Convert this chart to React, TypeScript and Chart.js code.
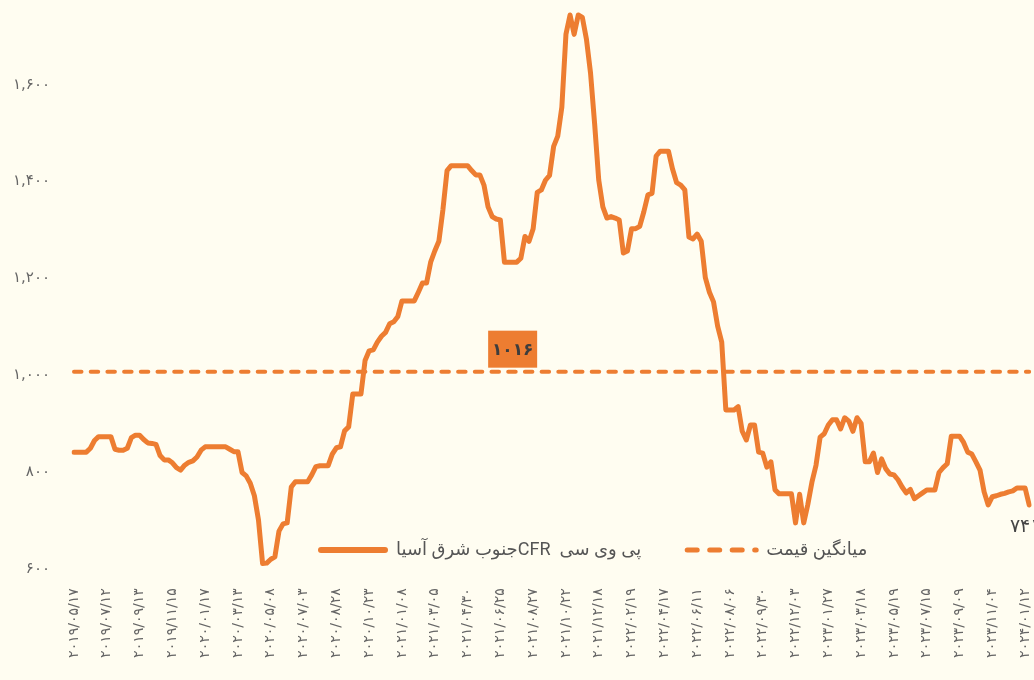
import React, { useEffect, useRef } from "react";
import { Chart, registerables } from "chart.js";

Chart.register(...registerables);

// ---- data ----
const tickLabels = [
  "۲۰۱۹/۰۵/۱۷", "۲۰۱۹/۰۷/۱۲", "۲۰۱۹/۰۹/۱۳", "۲۰۱۹/۱۱/۱۵", "۲۰۲۰/۰۱/۱۷",
  "۲۰۲۰/۰۳/۱۳", "۲۰۲۰/۰۵/۰۸", "۲۰۲۰/۰۷/۰۳", "۲۰۲۰/۰۸/۲۸", "۲۰۲۰/۱۰/۲۳",
  "۲۰۲۱/۰۱/۰۸", "۲۰۲۱/۰۳/۰۵", "۲۰۲۱/۰۴/۳۰", "۲۰۲۱/۰۶/۲۵", "۲۰۲۱/۰۸/۲۷",
  "۲۰۲۱/۱۰/۲۲", "۲۰۲۱/۱۲/۱۸", "۲۰۲۲/۰۲/۱۹", "۲۰۲۲/۰۴/۱۷", "۲۰۲۲/۰۶/۱۱",
  "۲۰۲۲/۰۸/۰۶", "۲۰۲۲/۰۹/۳۰", "۲۰۲۲/۱۲/۰۳", "۲۰۲۳/۰۱/۲۷", "۲۰۲۳/۰۳/۱۸",
  "۲۰۲۳/۰۵/۱۹", "۲۰۲۳/۰۷/۱۵", "۲۰۲۳/۰۹/۰۹", "۲۰۲۳/۱۱/۰۴", "۲۰۲۴/۰۱/۱۲",
];
const pointsPerTick = 8;

const prices = [
  850, 850, 850, 850, 858, 874, 882, 882,
  882, 882, 856, 854, 854, 858, 880, 885,
  885, 876, 869, 868, 866, 843, 834, 834,
  828, 818, 813, 823, 829, 832, 840, 854,
  861, 861, 861, 861, 861, 861, 856, 851,
  851, 808, 801, 786, 760, 710, 620, 621,
  629, 634, 687, 702, 704, 778, 789, 789,
  789, 789, 803, 820, 822, 822, 822, 846,
  859, 861, 894, 902, 970, 970, 970, 1039,
  1059, 1061, 1077, 1089, 1097, 1115, 1119, 1130,
  1162, 1162, 1162, 1162, 1180, 1199, 1199, 1242,
  1265, 1285, 1351, 1431, 1441, 1441, 1441, 1441,
  1441, 1431, 1422, 1422, 1401, 1356, 1336, 1331,
  1329, 1242, 1242, 1242, 1242, 1250, 1295, 1285,
  1311, 1386, 1391, 1411, 1421, 1481, 1502, 1562,
  1712, 1752, 1712, 1752, 1747, 1702, 1632, 1527,
  1411, 1356, 1333, 1336, 1333, 1329, 1261, 1265,
  1311, 1311, 1316, 1346, 1381, 1384, 1461, 1471,
  1471, 1471, 1434, 1406, 1401, 1391, 1294, 1290,
  1300, 1285, 1210, 1180, 1160, 1110, 1077, 937,
  937, 937, 944, 893, 875, 906, 906, 850,
  848, 819, 830, 772, 764, 764, 764, 764,
  704, 763, 704, 742, 788, 823, 881, 888,
  906, 917, 917, 898, 921, 914, 893, 921,
  909, 830, 830, 848, 808, 836, 816, 805,
  803, 793, 778, 766, 773, 754, 760, 766,
  772, 772, 772, 808, 818, 826, 883, 883,
  883, 870, 850, 846, 830, 813, 768, 741,
  758, 760, 763, 765, 768, 770, 776, 776,
  776, 741,
];

const avgPrice = 1016;
const seriesLabel = "پی وی سی  CFRجنوب شرق آسیا";
const avgLabel = "میانگین قیمت";

const yMin = 600;
const yMax = 1780;
const yTickValues = [600, 800, 1000, 1200, 1400, 1600];

// ---- styles ----
const ORANGE = "#ED7D31";
const BG = "#FFFDF1";
const TICK_COLOR = "#666666";
const TEXT_DARK = "#3d3d3d";
const FA_FONT = "'DejaVu Sans', sans-serif";
const LEGEND_FONT = "Roboto, 'DejaVu Sans', sans-serif";

const faDigits = "۰۱۲۳۴۵۶۷۸۹";
const toFa = (s: string) => s.replace(/\d/g, (d) => faDigits[Number(d)]);
const fmt = (n: number) => toFa(Math.round(n).toString().replace(/\B(?=(\d{3})+(?!\d))/g, ","));
const rtl = (s: string) => "\u200F\u202B" + s + "\u202C";

const categories = prices.map((_, i) =>
  i % pointsPerTick === 0 && tickLabels[i / pointsPerTick] ? tickLabels[i / pointsPerTick] : ""
);

const CANVAS_W = 1060;
const CANVAS_H = 740;
const CANVAS_TOP = -20;
const AVG_LABEL_INDEX = 107;

const overlayPlugin = {
  id: "overlay",
  afterDatasetsDraw(chart: any) {
    const ctx = chart.ctx as CanvasRenderingContext2D;
    const xs = chart.scales.x;
    const ys = chart.scales.y;
    ctx.save();

    // average value box
    const bx = xs.getPixelForValue(AVG_LABEL_INDEX);
    const by = ys.getPixelForValue(avgPrice);
    const bw = 49;
    const bh = 37;
    ctx.fillStyle = ORANGE;
    ctx.fillRect(bx - bw / 2, by - 4 - bh, bw, bh);
    ctx.fillStyle = TEXT_DARK;
    ctx.font = `bold 17px ${FA_FONT}`;
    ctx.textAlign = "center";
    ctx.textBaseline = "middle";
    ctx.fillText(toFa(String(avgPrice)), bx, by - 4 - bh / 2 + 1);

    // last value label
    const li = prices.length - 1;
    const lx = xs.getPixelForValue(li);
    const ly = ys.getPixelForValue(prices[li]);
    ctx.fillStyle = "#454545";
    ctx.font = `19px ${FA_FONT}`;
    ctx.fillText(toFa(String(prices[li])), lx - 4, ly + 22);

    // legend (boxes on the left, Persian text laid out right-to-left)
    const legendY = 570;
    let x = 318;
    ctx.font = `18px ${LEGEND_FONT}`;
    (ctx as any).direction = "rtl";
    ctx.textAlign = "left";
    ctx.textBaseline = "middle";
    ctx.lineCap = "round";

    ctx.strokeStyle = ORANGE;
    ctx.lineWidth = 6;
    ctx.setLineDash([]);
    ctx.beginPath();
    ctx.moveTo(x + 3, legendY);
    ctx.lineTo(x + 67, legendY);
    ctx.stroke();
    x += 78;
    ctx.fillStyle = "#555";
    const t1 = rtl(seriesLabel);
    ctx.fillText(t1, x, legendY);
    x += ctx.measureText(t1).width + 43;

    ctx.lineWidth = 5;
    ctx.setLineDash([10, 12.5]);
    ctx.beginPath();
    ctx.moveTo(x + 3, legendY);
    ctx.lineTo(x + 72, legendY);
    ctx.stroke();
    ctx.setLineDash([]);
    x += 82;
    ctx.fillText(rtl(avgLabel), x, legendY);
    ctx.restore();
  },
};

export default function App() {
  const ref = useRef<HTMLCanvasElement | null>(null);

  useEffect(() => {
    if (!ref.current) return;
    const chart = new Chart(ref.current, {
      type: "line",
      data: {
        labels: categories,
        datasets: [
          {
            label: seriesLabel,
            data: prices,
            borderColor: ORANGE,
            backgroundColor: ORANGE,
            borderWidth: 5,
            pointRadius: 0,
            pointHoverRadius: 0,
            tension: 0,
            borderJoinStyle: "round",
            borderCapStyle: "round",
          },
          {
            label: avgLabel,
            data: prices.map(() => avgPrice),
            borderColor: ORANGE,
            backgroundColor: ORANGE,
            borderWidth: 4,
            borderDash: [7.5, 9.2],
            borderCapStyle: "round",
            pointRadius: 0,
            pointHoverRadius: 0,
          },
        ],
      },
      options: {
        responsive: false,
        animation: false,
        events: [],
        layout: { padding: { top: 21.4, right: 30.8, left: 0, bottom: 0 } },
        plugins: {
          legend: { display: false },
          title: { display: false },
          tooltip: { enabled: false },
        },
        scales: {
          x: {
            grid: { display: false, drawTicks: false },
            border: { display: false },
            ticks: {
              autoSkip: false,
              maxRotation: 90,
              minRotation: 90,
              padding: 15,
              color: TICK_COLOR,
              font: { family: FA_FONT, size: 14 },
            },
            afterFit: (s: any) => {
              s.height = 146.7;
              s.paddingLeft = 0;
              s.paddingRight = 0;
            },
          },
          y: {
            min: yMin,
            max: yMax,
            grid: { display: false, drawTicks: false },
            border: { display: false },
            afterBuildTicks: (s: any) => {
              s.ticks = yTickValues.map((v) => ({ value: v }));
            },
            ticks: {
              padding: 24,
              labelOffset: -4,
              color: TICK_COLOR,
              font: { family: FA_FONT, size: 15 },
              callback: (v: any) => fmt(Number(v)),
            },
            afterFit: (s: any) => {
              s.width = 74;
              s.paddingTop = 0;
              s.paddingBottom = 0;
            },
          },
        },
      },
      plugins: [overlayPlugin],
    });
    return () => chart.destroy();
  }, []);

  return (
    <div
      style={{
        position: "fixed",
        left: 0,
        top: 0,
        width: 1034,
        height: 680,
        overflow: "hidden",
        background: BG,
      }}
    >
      <canvas
        ref={ref}
        width={CANVAS_W}
        height={CANVAS_H}
        style={{ position: "absolute", left: 0, top: CANVAS_TOP, width: CANVAS_W, height: CANVAS_H }}
      />
    </div>
  );
}
